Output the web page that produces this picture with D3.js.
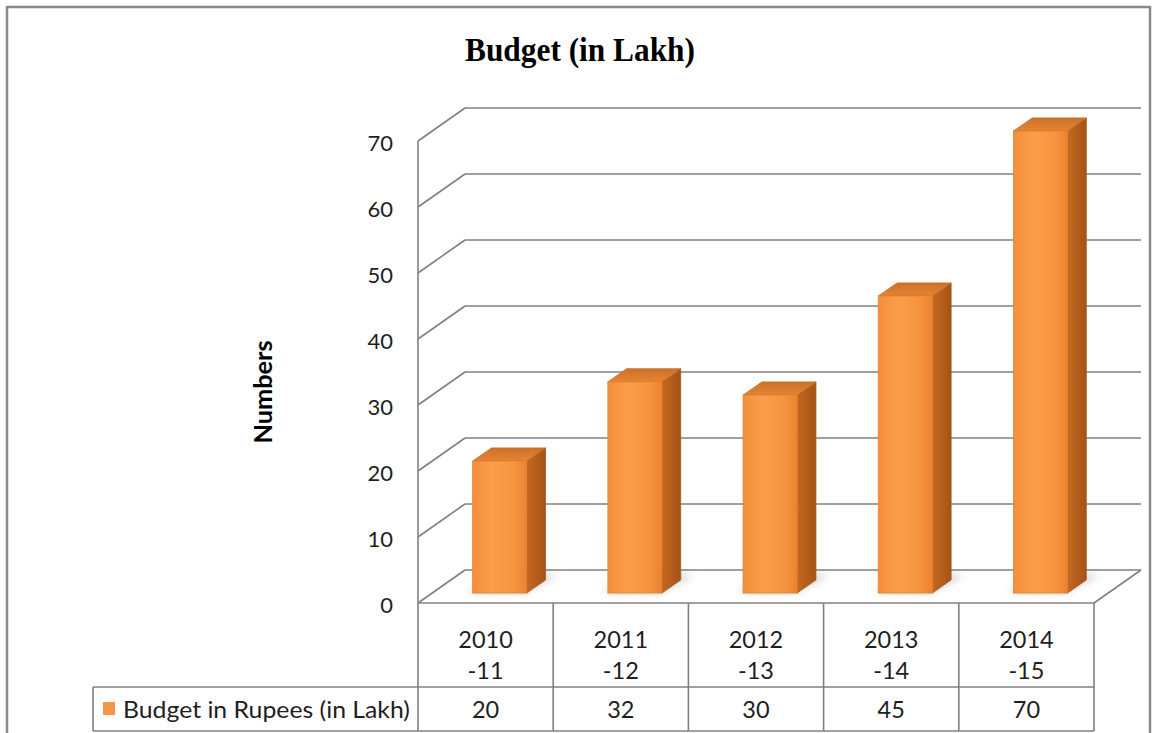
<!DOCTYPE html>
<html><head><meta charset="utf-8">
<script src="https://cdn.jsdelivr.net/npm/d3@7"></script>
<style>body{margin:0;background:#fff}</style>
</head><body>
<svg id="chart" width="1154" height="733"></svg>
<script>
// ---- data ----
const categories = ["2010-11","2011-12","2012-13","2013-14","2014-15"];
const catLine1 = ["2010","2011","2012","2013","2014"];
const catLine2 = ["-11","-12","-13","-14","-15"];
const values = [20, 32, 30, 45, 70];
const yTicks = [0, 10, 20, 30, 40, 50, 60, 70];
const seriesName = "Budget in Rupees (in Lakh)";
const chartTitle = "Budget (in Lakh)";
const yTitle = "Numbers";

// ---- layout ----
const W = 1154, H = 733;
const svg = d3.select("#chart");
const plotL = 418, plotR = 1094, floorY = 603, topY = 141;
const DX = 47, DY = -33;           // 3D depth vector
const gridCol = "#808080", textCol = "#1e1e1e", font = "Lato, 'Open Sans', sans-serif";

const x = d3.scaleBand().domain(categories).range([plotL, plotR]);
const y = d3.scaleLinear().domain([0, 70]).range([floorY, topY]);
const P = (px, v, d) => [px + DX * d, y(v) + DY * d];

const defs = svg.append("defs");
const gFront = defs.append("linearGradient").attr("id","gFront");
[["0%","#F38E3A"],["35%","#FA9E4C"],["75%","#F7953E"],["100%","#EA8230"]].forEach(s=>gFront.append("stop").attr("offset",s[0]).attr("stop-color",s[1]));
const gSide = defs.append("linearGradient").attr("id","gSide");
[["0%","#C66820"],["100%","#A35318"]].forEach(s=>gSide.append("stop").attr("offset",s[0]).attr("stop-color",s[1]));
const gTop = defs.append("linearGradient").attr("id","gTop").attr("x1","0").attr("y1","1").attr("x2","0").attr("y2","0");
[["0%","#E58432"],["100%","#CD7028"]].forEach(s=>gTop.append("stop").attr("offset",s[0]).attr("stop-color",s[1]));
const blur = defs.append("filter").attr("id","blur").attr("x","-50%").attr("y","-50%").attr("width","200%").attr("height","200%");
blur.append("feGaussianBlur").attr("stdDeviation", 4);

// outer border
svg.append("rect").attr("x",7).attr("y",7).attr("width",1143).attr("height",760)
  .attr("fill","#fff").attr("stroke","#8a8a8a").attr("stroke-width",2.5);

// title
svg.append("text").attr("x",580).attr("y",61).attr("text-anchor","middle")
  .attr("font-family","'Liberation Serif', 'Times New Roman', serif").attr("font-weight","bold")
  .attr("font-size",33).attr("textLength",230).attr("lengthAdjust","spacingAndGlyphs")
  .attr("fill","#000").text(chartTitle);

// back wall gridlines
const grid = svg.append("g").attr("stroke",gridCol).attr("stroke-width",1.6).attr("fill","none");
yTicks.forEach(v => {
  const a = P(plotL, v, 1), b = P(plotR, v, 1);
  grid.append("line").attr("x1",a[0]).attr("y1",a[1]).attr("x2",b[0]).attr("y2",b[1]);
  const c = P(plotL, v, 0);
  grid.append("line").attr("x1",c[0]).attr("y1",c[1]).attr("x2",a[0]).attr("y2",a[1]);
});
// floor right edge and front axis
{
  const a = P(plotR, 0, 0), b = P(plotR, 0, 1);
  grid.append("line").attr("x1",a[0]).attr("y1",a[1]).attr("x2",b[0]).attr("y2",b[1]);
  grid.append("line").attr("x1",plotL).attr("y1",y(70)).attr("x2",plotL).attr("y2",y(0));
}

// y tick labels
svg.append("g").selectAll("text").data(yTicks).join("text")
  .attr("x", 393).attr("y", d => y(d) + 10).attr("text-anchor","end")
  .attr("font-family",font).attr("font-size",22).attr("fill",textCol).text(d => d);

// y title
svg.append("text").attr("transform","translate(272,392) rotate(-90)").attr("text-anchor","middle")
  .attr("font-family",font).attr("font-weight","bold").attr("font-size",24)
  .attr("textLength",103).attr("lengthAdjust","spacingAndGlyphs").attr("fill","#000").text(yTitle);

// bars
const bw = x.bandwidth() * 0.4;
const d0 = 0.3, d1 = 0.7;
const bars = svg.append("g");
categories.forEach((c, i) => {
  const v = values[i];
  const x0 = x(c) + (x.bandwidth() - bw) / 2, x1 = x0 + bw;
  const g = bars.append("g");
  // shadow
  const sh = [P(x0-8,0,d0+0.05), P(x1-4,0,d0+0.05), P(x1+6,0,d1+0.15), P(x0-2,0,d1+0.15)];
  g.append("polygon").attr("points", sh.map(p=>p.join(",")).join(" "))
    .attr("fill","#000").attr("opacity",0.22).attr("filter","url(#blur)");
  // side
  const side = [P(x1,0,d0), P(x1,v,d0), P(x1,v,d1), P(x1,0,d1)];
  g.append("polygon").attr("points", side.map(p=>p.join(",")).join(" ")).attr("fill","url(#gSide)")
    .attr("stroke","#A85A1C").attr("stroke-width",0.8);
  // top
  const top = [P(x0,v,d0), P(x1,v,d0), P(x1,v,d1), P(x0,v,d1)];
  g.append("polygon").attr("points", top.map(p=>p.join(",")).join(" ")).attr("fill","url(#gTop)")
    .attr("stroke","#C46E28").attr("stroke-width",0.8);
  // front
  const f0 = P(x0, v, d0), f1 = P(x1, 0, d0);
  g.append("rect").attr("x",f0[0]).attr("y",f0[1]).attr("width",f1[0]-f0[0]).attr("height",f1[1]-f0[1])
    .attr("fill","url(#gFront)").attr("stroke","#E5832F").attr("stroke-width",0.8);
});

// data table
const tbl = svg.append("g").attr("stroke",gridCol).attr("stroke-width",1.6).attr("fill","none");
const rowTop = floorY, rowMid = 687, rowBot = 731, legL = 93;
tbl.append("line").attr("x1",plotL).attr("y1",rowTop).attr("x2",plotR).attr("y2",rowTop);
tbl.append("line").attr("x1",legL).attr("y1",rowMid).attr("x2",plotR).attr("y2",rowMid);
tbl.append("line").attr("x1",legL).attr("y1",rowBot).attr("x2",plotR).attr("y2",rowBot);
tbl.append("line").attr("x1",legL).attr("y1",rowMid).attr("x2",legL).attr("y2",rowBot);
categories.forEach(c => tbl.append("line").attr("x1",x(c)).attr("y1",rowTop).attr("x2",x(c)).attr("y2",rowBot));
tbl.append("line").attr("x1",plotR).attr("y1",rowTop).attr("x2",plotR).attr("y2",rowBot);

const tt = svg.append("g").attr("font-family",font).attr("font-size",23.5).attr("fill",textCol).attr("text-anchor","middle");
categories.forEach((c, i) => {
  const cx = x(c) + x.bandwidth() / 2;
  tt.append("text").attr("x",cx).attr("y",648).text(catLine1[i]);
  tt.append("text").attr("x",cx).attr("y",679).text(catLine2[i]);
  tt.append("text").attr("x",cx).attr("y",718).text(values[i]);
});
// legend key + name
svg.append("rect").attr("x",103).attr("y",702).attr("width",12).attr("height",13).attr("fill","#F79646");
svg.append("text").attr("x",123).attr("y",718).attr("font-family",font).attr("font-size",23.5)
  .attr("textLength",287).attr("lengthAdjust","spacingAndGlyphs")
  .attr("fill",textCol).text(seriesName);
</script>
</body></html>
